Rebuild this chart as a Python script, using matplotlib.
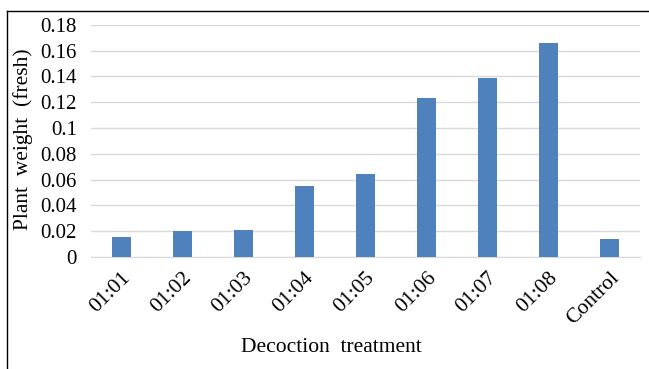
import matplotlib.pyplot as plt
from matplotlib.lines import Line2D
from matplotlib.transforms import ScaledTranslation

categories = ["01:01", "01:02", "01:03", "01:04", "01:05", "01:06", "01:07", "01:08", "Control"]
weights = [0.0155, 0.020, 0.0212, 0.0547, 0.0642, 0.123, 0.1386, 0.1658, 0.014]
y_ticks = [0, 0.02, 0.04, 0.06, 0.08, 0.1, 0.12, 0.14, 0.16, 0.18]
y_tick_labels = ["0", "0.02", "0.04", "0.06", "0.08", "0.1", "0.12", "0.14", "0.16", "0.18"]

plt.rcParams['font.family'] = ['Liberation Serif', 'DejaVu Serif']

fig = plt.figure(figsize=(6.49, 3.69), dpi=100)
ax = fig.add_axes([0.140, 0.3035, 0.846, 0.629])

x = range(len(categories))
ax.bar(x, weights, width=0.31, color='#4f81bd', zorder=3)

ax.set_xlim(-0.5, len(categories) - 0.5)
ax.set_ylim(0, 0.18)
ax.set_yticks(y_ticks)
ax.set_yticklabels(y_tick_labels, fontsize=15)
ax.set_xticks(list(x))
ax.set_xticklabels(categories, fontsize=15.5, rotation=45, ha='right', rotation_mode='anchor')
shift = ScaledTranslation(-3 / 100, 0, fig.dpi_scale_trans)
for lbl in ax.get_xticklabels():
    lbl.set_transform(lbl.get_transform() + shift)
ax.tick_params(axis='x', length=0, pad=8)
ax.tick_params(axis='y', length=0, pad=10)

ax.grid(axis='y', color='#d9d9d9', linewidth=1, zorder=0)
for s in ['top', 'right', 'left']:
    ax.spines[s].set_visible(False)
ax.spines['bottom'].set_color('#d9d9d9')

fig.text(23 / 649, 1 - 139 / 369, "Plant  weight  (fresh)", fontsize=15.5,
         rotation=90, ha='center', va='center')
fig.text(331 / 649, 1 - 348 / 369, "Decoction  treatment", fontsize=15.5,
         ha='center', va='center')

# border of the original figure box (top and left only)
fig.add_artist(Line2D([7 / 649, 1], [1 - 11 / 369, 1 - 11 / 369], transform=fig.transFigure, color='black', linewidth=1))
fig.add_artist(Line2D([7 / 649, 7 / 649], [0, 1 - 11 / 369], transform=fig.transFigure, color='black', linewidth=1))

plt.savefig('out.png', dpi=100)
